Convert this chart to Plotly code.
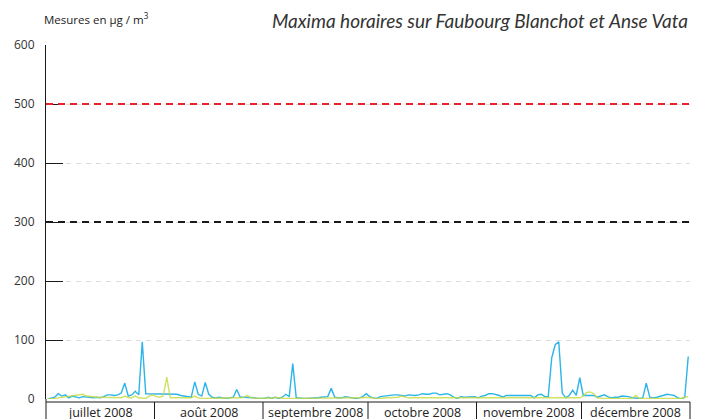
import plotly.graph_objects as go
import pandas as pd

# ---- data -------------------------------------------------------------
start_date = "2008-07-01"
end_date = "2009-01-01"

# Daily hourly maxima (µg/m³), 1 Jul 2008 -> 31 Dec 2008
blanchot_jul = [0, 1, 3, 9, 5, 7, 2, 5, 3, 2, 4, 3, 3, 2, 3, 2, 4, 7, 7, 6, 7, 10, 27, 5, 7, 13, 7, 97, 9, 9, 9]
blanchot_aug = [9, 9, 9, 8, 8, 8, 8, 6, 5, 3, 3, 29, 8, 5, 28, 8, 3, 2, 3, 2, 1, 2, 3, 16, 3, 3, 3, 3, 2, 1, 1]
blanchot_sep = [1, 3, 1, 3, 1, 3, 8, 4, 60, 2, 1, 1, 1, 1, 1, 2, 3, 3, 4, 18, 3, 2, 2, 4, 3, 2, 1, 2, 4, 9]
blanchot_oct = [4, 2, 1, 4, 5, 6, 6, 7, 7, 6, 5, 7, 6, 6, 7, 9, 8, 8, 10, 10, 7, 8, 9, 7, 3, 1, 4, 3, 3, 4, 4]
blanchot_nov = [2, 5, 6, 9, 9, 8, 6, 3, 6, 6, 6, 5, 5, 6, 5, 6, 2, 7, 8, 4, 4, 70, 92, 97, 10, 2, 6, 15, 6, 36]
blanchot_dec = [6, 6, 7, 6, 3, 5, 7, 4, 2, 3, 3, 5, 5, 4, 2, 1, 1, 2, 27, 3, 2, 3, 5, 7, 8, 7, 6, 2, 0, 3, 72]

vata_jul = [0, 0, 1, 2, 3, 3, 4, 5, 6, 7, 8, 5, 4, 3, 3, 3, 3, 3, 3, 3, 3, 2, 5, 2, 2, 5, 2, 2, 1, 5, 7]
vata_aug = [4, 3, 5, 37, 2, 2, 2, 2, 2, 2, 2, 5, 2, 1, 1, 1, 1, 1, 2, 2, 2, 2, 1, 2, 2, 3, 6, 2, 1, 1, 1]
vata_sep = [2, 2, 1, 3, 2, 1, 1, 1, 1, 1, 1, 1, 1, 1, 1, 1, 1, 1, 1, 1, 1, 1, 1, 1, 1, 1, 1, 1, 2, 3]
vata_oct = [2, 1, 1, 1, 2, 2, 2, 2, 3, 5, 3, 2, 2, 2, 2, 2, 2, 2, 2, 2, 2, 2, 2, 2, 2, 2, 2, 2, 2, 2, 2]
vata_nov = [1, 1, 1, 1, 1, 1, 1, 1, 1, 1, 1, 1, 1, 1, 1, 1, 1, 1, 1, 1, 1, 1, 1, 1, 1, 1, 1, 1, 1, 2]
vata_dec = [5, 11, 12, 9, 2, 1, 1, 1, 1, 1, 1, 1, 1, 1, 1, 6, 1, 1, 1, 1, 1, 1, 1, 1, 1, 1, 1, 1, 1, 3, 4]

series_names = ["Faubourg Blanchot", "Anse Vata"]
series_colors = ["#2DB4E8", "#C6DA3E"]

thresholds = [500, 300]
threshold_colors = ["#E8232B", "#1A1A1A"]

y_ticks = [0, 100, 200, 300, 400, 500, 600]

month_starts = ["2008-07-01", "2008-08-01", "2008-09-01", "2008-10-01",
                "2008-11-01", "2008-12-01", "2009-01-01"]
month_labels = ["juillet 2008", "août 2008", "septembre 2008", "octobre 2008",
                "novembre 2008", "décembre 2008"]

title_text = "Maxima horaires sur Faubourg Blanchot et Anse Vata"
unit_text = "Mesures en µg / m<sup>3</sup>"

# ---- build ------------------------------------------------------------
blanchot = blanchot_jul + blanchot_aug + blanchot_sep + blanchot_oct + blanchot_nov + blanchot_dec
vata = vata_jul + vata_aug + vata_sep + vata_oct + vata_nov + vata_dec
dates = pd.date_range(start_date, periods=len(blanchot), freq="D") + pd.Timedelta(hours=12)

fig = go.Figure()
fig.add_trace(go.Scatter(x=dates, y=blanchot, mode="lines", name=series_names[0],
                         line=dict(color=series_colors[0], width=1.4)))
fig.add_trace(go.Scatter(x=dates, y=vata, mode="lines", name=series_names[1],
                         line=dict(color=series_colors[1], width=1.4), opacity=0.8))

shapes = []
for t, c in zip(thresholds, threshold_colors):
    shapes.append(dict(type="line", xref="paper", yref="y", x0=0, x1=1, y0=t, y1=t,
                       line=dict(color=c, width=2, dash="7px,5px"), layer="above"))

box_top = -0.0085
box_bottom = -0.2
shapes.append(dict(type="line", xref="paper", yref="paper", x0=0, x1=1, y0=box_top, y1=box_top,
                   line=dict(color="#1A1A1A", width=1)))
shapes.append(dict(type="line", xref="paper", yref="paper", x0=0, x1=0, y0=0, y1=box_bottom,
                   line=dict(color="#1A1A1A", width=1)))
shapes.append(dict(type="line", xref="paper", yref="paper", x0=1, x1=1, y0=box_top, y1=box_bottom,
                   line=dict(color="#1A1A1A", width=1)))
for m in month_starts[1:-1]:
    shapes.append(dict(type="line", xref="x", yref="paper", x0=m, x1=m, y0=box_top, y1=box_bottom,
                       line=dict(color="#1A1A1A", width=1)))

annotations = []
for i, lab in enumerate(month_labels):
    a = pd.Timestamp(month_starts[i])
    b = pd.Timestamp(month_starts[i + 1])
    mid = a + (b - a) / 2
    annotations.append(dict(x=mid, y=0, xref="x", yref="paper", text=lab, showarrow=False,
                            yanchor="middle", yshift=-13,
                            font=dict(family="Open Sans, sans-serif", size=12.5, color="#222")))

annotations.append(dict(x=1, y=1, xref="paper", yref="paper", text=title_text, showarrow=False,
                        xanchor="right", yanchor="middle", yshift=25,
                        font=dict(family="Lato, sans-serif", size=19, color="#333", style="italic")))
annotations.append(dict(x=0, y=1, xref="paper", yref="paper", text=unit_text, showarrow=False,
                        xanchor="left", yanchor="middle", yshift=27, xshift=-4,
                        font=dict(family="Open Sans, sans-serif", size=11.5, color="#222")))

fig.update_layout(
    width=708, height=419,
    margin=dict(l=46, r=18, t=45, b=16),
    paper_bgcolor="white", plot_bgcolor="white",
    showlegend=False,
    shapes=shapes, annotations=annotations,
    xaxis=dict(type="date", range=[start_date, end_date], showgrid=False, zeroline=False,
               showline=False, showticklabels=False, ticks=""),
    yaxis=dict(range=[0, 600], tickvals=y_ticks, ticks="inside", ticklen=17, tickcolor="#1A1A1A",
               tickwidth=1, showline=True, linecolor="#1A1A1A", linewidth=1,
               showgrid=True, gridcolor="#DDDDDD", griddash="5px,5px", gridwidth=1,
               zeroline=False, ticklabelstandoff=8,
               tickfont=dict(family="Open Sans, sans-serif", size=12, color="#333")),
)

fig.write_html("out.html", config={"displayModeBar": False},
               post_script="document.body.style.margin='0';")
